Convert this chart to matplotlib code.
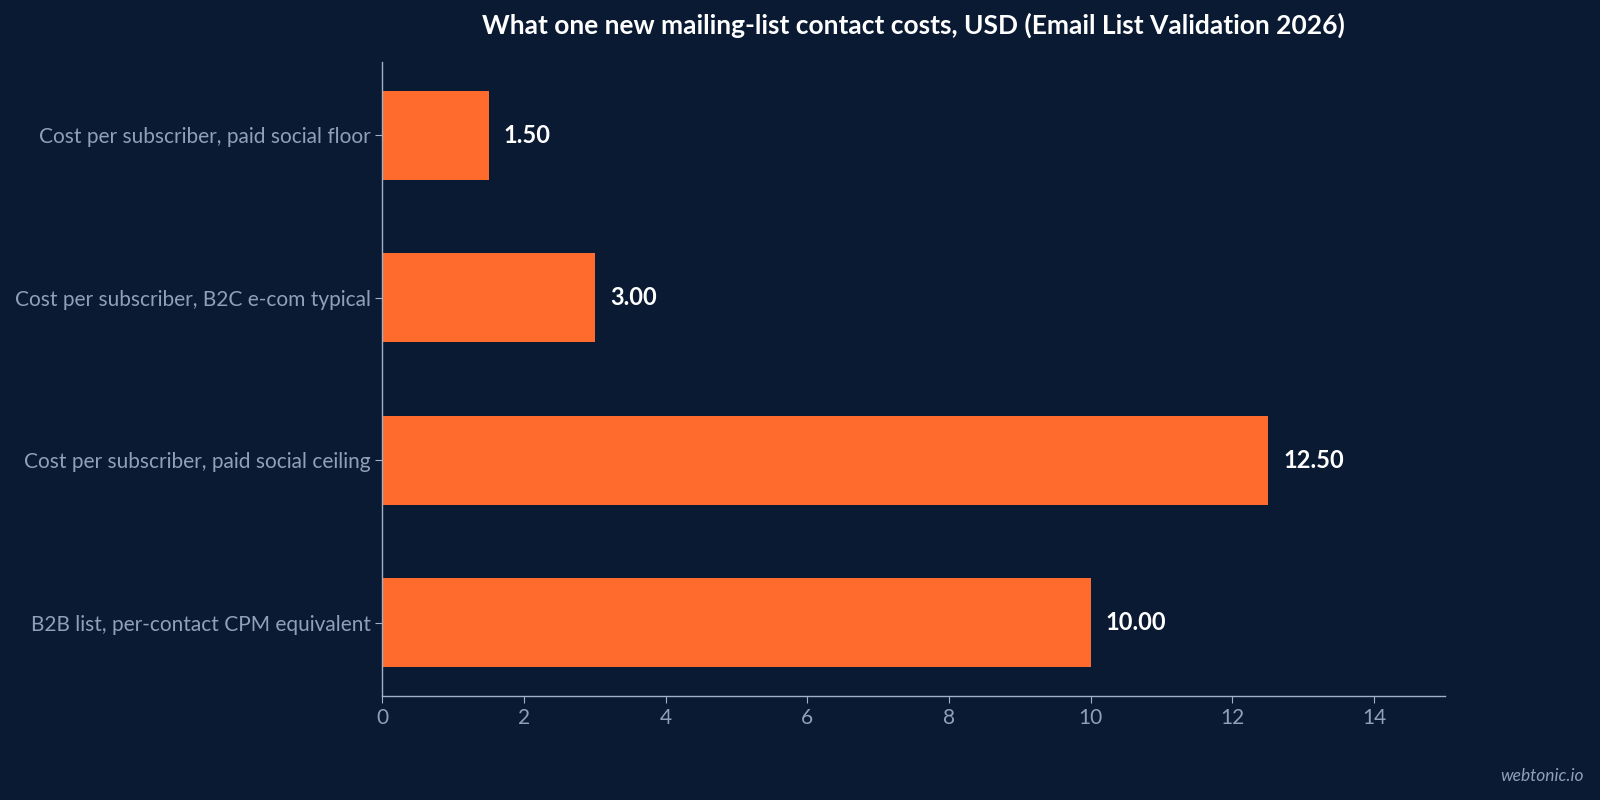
import matplotlib
matplotlib.use('Agg')
import matplotlib.pyplot as plt

plt.rcParams['font.family'] = ['Lato', 'DejaVu Sans']

# data
categories = [
    'Cost per subscriber, paid social floor',
    'Cost per subscriber, B2C e-com typical',
    'Cost per subscriber, paid social ceiling',
    'B2B list, per-contact CPM equivalent',
]
values = [1.50, 3.00, 12.50, 10.00]
x_ticks = [0, 2, 4, 6, 8, 10, 12, 14]

BG = '#0b1a33'
BAR = '#ff6b2c'
LABEL = '#8fa0b8'
SPINE = '#a3b1c6'

fig = plt.figure(figsize=(16, 8), dpi=100, facecolor=BG)
ax = fig.add_axes([0.239, 0.13, 0.664, 0.7925], facecolor=BG)

ypos = list(range(len(categories)))
ax.barh(ypos, values, height=0.55, color=BAR)
ax.set_yticks(ypos)
ax.set_yticklabels(categories)
ax.invert_yaxis()
ax.set_xlim(0, 15)
ax.set_xticks(x_ticks)

for y, v in zip(ypos, values):
    ax.annotate(f'{v:.2f}', xy=(v, y), xytext=(11, 0), textcoords='offset points',
                va='center', ha='left', color='white', fontsize=17, fontweight='bold')

for side in ['top', 'right']:
    ax.spines[side].set_visible(False)
for side in ['left', 'bottom']:
    ax.spines[side].set_color(SPINE)
    ax.spines[side].set_linewidth(1.0)

ax.tick_params(axis='both', colors=SPINE, labelcolor=LABEL, labelsize=15, length=5)

ax.set_title('What one new mailing-list contact costs, USD (Email List Validation 2026)',
             color='white', fontsize=19, fontweight='bold', pad=20)

fig.text(0.99, 0.02, 'webtonic.io', color=LABEL, fontsize=12.5, style='italic',
         ha='right', va='bottom')

fig.savefig('out.png', dpi=100, facecolor=BG)
